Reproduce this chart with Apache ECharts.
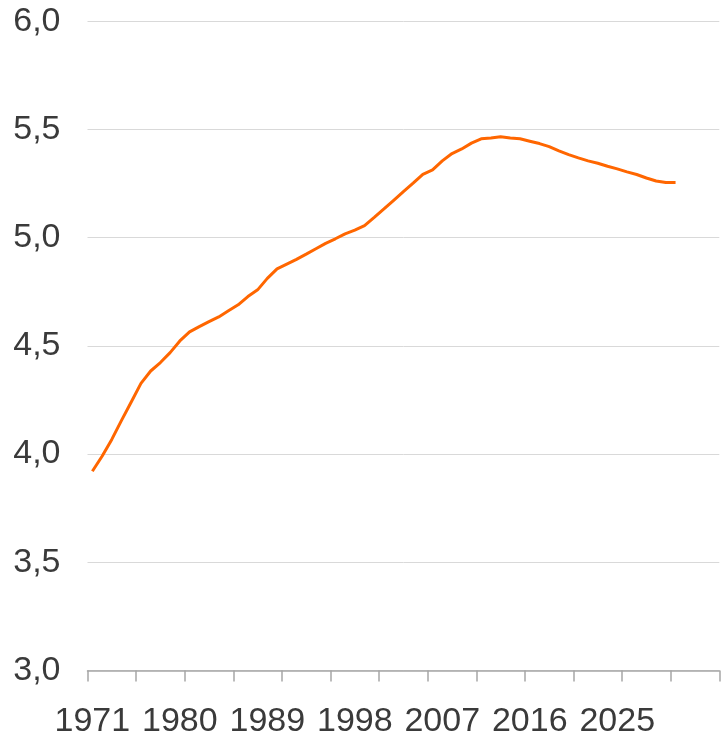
<!DOCTYPE html>
<html>
<head>
<meta charset="utf-8">
<script src="https://cdn.jsdelivr.net/npm/echarts@6/dist/echarts.min.js"></script>
<style>
  html, body { margin: 0; padding: 0; background: #fff; }
  #chart { width: 723px; height: 736px; }
</style>
</head>
<body>
<div id="chart"></div>
<script>
// categories: 1971..2035 (axis runs past the last data year)
const years = []
for (let y = 1971; y <= 2035; y++) years.push(String(y))

// values 1971..2031
const values = [
  3.921, 3.99, 4.068, 4.156, 4.241, 4.327, 4.384, 4.423, 4.469, 4.523,
  4.565, 4.589, 4.612, 4.634, 4.662, 4.69, 4.728, 4.759, 4.812, 4.856,
  4.878, 4.90, 4.924, 4.949, 4.974, 4.995, 5.018, 5.035, 5.056, 5.094,
  5.133, 5.173, 5.213, 5.252, 5.293, 5.313, 5.355, 5.389, 5.41, 5.437,
  5.457, 5.461, 5.466, 5.461, 5.457, 5.446, 5.435, 5.421, 5.401, 5.384,
  5.369, 5.355, 5.344, 5.330, 5.318, 5.304, 5.292, 5.276, 5.262, 5.255,
  5.255
]

const yTicks = [3.0, 3.5, 4.0, 4.5, 5.0, 5.5, 6.0]
const labelYears = ['1971', '1980', '1989', '1998', '2007', '2016', '2025']

const myChart = echarts.init(document.getElementById('chart'))
myChart.setOption({
  animation: false,
  grid: {
    left: 87.5,
    right: 3.7,
    top: 21.3,
    bottom: 65.5,
    containLabel: false,
    outerBoundsMode: 'none'
  },
  xAxis: {
    type: 'category',
    data: years,
    boundaryGap: true,
    axisLine: {
      show: true,
      lineStyle: { color: '#A6A6A6', width: 1.5 }
    },
    axisTick: {
      show: true,
      interval: 4,
      length: 11,
      lineStyle: { color: '#A6A6A6', width: 1.5 }
    },
    axisLabel: {
      interval: (idx, val) => labelYears.indexOf(val) >= 0,
      margin: 34,
      fontSize: 34,
      fontFamily: 'Liberation Sans, Arial, sans-serif',
      color: '#3a3a3a'
    },
    splitLine: { show: false }
  },
  yAxis: {
    type: 'value',
    min: yTicks[0],
    max: yTicks[yTicks.length - 1],
    interval: 0.5,
    axisLine: { show: false },
    axisTick: { show: false },
    axisLabel: {
      margin: 27,
      fontSize: 34,
      fontFamily: 'Liberation Sans, Arial, sans-serif',
      color: '#3a3a3a',
      formatter: v => v.toFixed(1).replace('.', ',')
    },
    splitLine: {
      lineStyle: { color: '#D9D9D9', width: 1 }
    }
  },
  series: [
    {
      type: 'line',
      data: values,
      symbol: 'none',
      smooth: false,
      lineStyle: { color: '#FF6600', width: 3 },
      itemStyle: { color: '#FF6600' }
    }
  ]
})
window.onresize = function () {
  myChart.resize()
}
</script>
</body>
</html>
